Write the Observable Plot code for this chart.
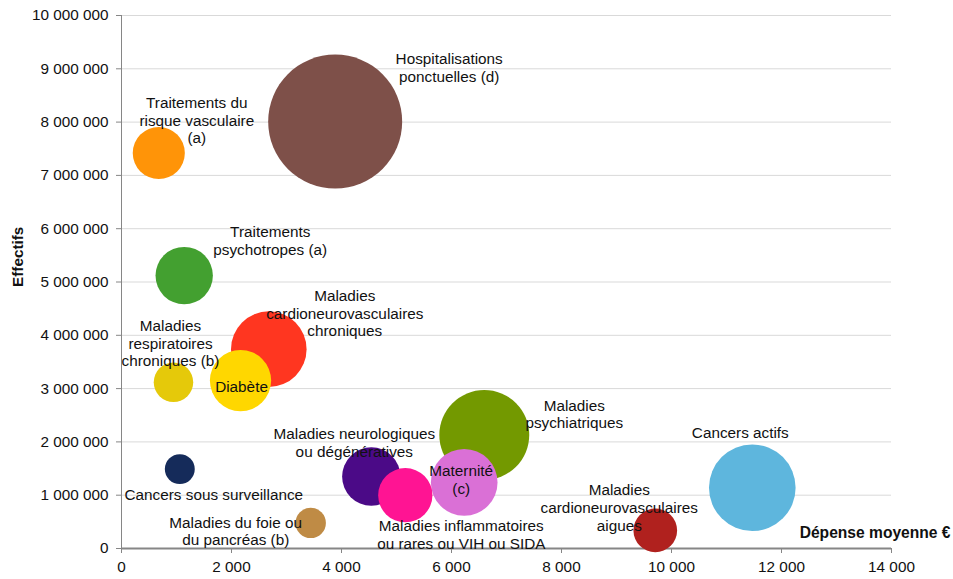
<!DOCTYPE html>
<html><head><meta charset="utf-8">
<script src="https://cdn.jsdelivr.net/npm/d3@7"></script>
<script src="https://cdn.jsdelivr.net/npm/@observablehq/plot@0.6"></script>
<style>body{margin:0;background:#fff} svg{display:block}</style>
</head><body><div id="chart"></div>
<script>
// Catégories (ordre de dessin)
const categories = [
  "Hospitalisations ponctuelles (d)",
  "Traitements du risque vasculaire (a)",
  "Traitements psychotropes (a)",
  "Maladies cardioneurovasculaires chroniques",
  "Maladies respiratoires chroniques (b)",
  "Diabète",
  "Cancers sous surveillance",
  "Maladies du foie ou du pancréas (b)",
  "Maladies neurologiques ou dégénératives",
  "Maladies inflammatoires ou rares ou VIH ou SIDA",
  "Maladies psychiatriques",
  "Maternité (c)",
  "Cancers actifs",
  "Maladies cardioneurovasculaires aigues"
];
const labels = [
  "Hospitalisations\nponctuelles (d)",
  "Traitements du\nrisque vasculaire\n(a)",
  "Traitements\npsychotropes (a)",
  "Maladies\ncardioneurovasculaires\nchroniques",
  "Maladies\nrespiratoires\nchroniques (b)",
  "Diabète",
  "Cancers sous surveillance",
  "Maladies du foie ou\ndu pancréas (b)",
  "Maladies neurologiques\nou dégénératives",
  "Maladies inflammatoires\nou rares ou VIH ou SIDA",
  "Maladies\npsychiatriques",
  "Maternité\n(c)",
  "Cancers actifs",
  "Maladies\ncardioneurovasculaires\naigues"
];
// Dépense moyenne (€)
const depenseMoyenne = [3885, 678, 1140, 2678, 945, 2164, 1060, 3440, 4542, 5160, 6596, 6231, 11469, 9705];
// Effectifs
const effectifs = [8010000, 7420000, 5120000, 3740000, 3120000, 3150000, 1490000, 480000, 1350000, 1000000, 2130000, 1240000, 1140000, 340000];
// Dépense totale (Md€) -> taille des bulles
const depenseTotale = [31.1, 4.7, 5.7, 9.9, 2.7, 6.5, 1.55, 1.6, 5.9, 5.1, 14.0, 7.7, 13.0, 3.3];
// Couleurs
const colors = ["#7E5049", "#FF9408", "#43A030", "#FF3620", "#E5C90A", "#FFD700", "#152B5A", "#BF8B45", "#4B0A87", "#FF1493", "#739900", "#DA70D6", "#5EB6DD", "#B0211E"];
// Décalage des étiquettes (px)
const labelOffsets = [[114,-54],[38,-33],[86,-35],[76,-36],[-3,-39],[1,6],[34,25],[-75,8],[-17,-34],[56,39],[90,-21],[-3,-3],[-12,-55],[-36,-23]];

const xTicks = [0, 2000, 4000, 6000, 8000, 10000, 12000, 14000];
const yTicks = [0, 1e6, 2e6, 3e6, 4e6, 5e6, 6e6, 7e6, 8e6, 9e6, 1e7];

const data = categories.map((c, i) => ({
  cat: c, label: labels[i], x: depenseMoyenne[i], y: effectifs[i],
  total: depenseTotale[i], color: colors[i], off: labelOffsets[i]
}));

const fmt = d => d3.format(",")(d).replace(/,/g, "\u00a0");

const font = "'Liberation Sans', Arial, sans-serif";

const chart = Plot.plot({
  width: 953, height: 579,
  marginLeft: 121, marginRight: 62, marginTop: 15, marginBottom: 31,
  style: {fontFamily: font, fontSize: "15.3px", color: "#111", background: "#fff", overflow: "visible"},
  x: {domain: [0, 14000]},
  y: {domain: [0, 1e7]},
  r: {type: "sqrt", domain: [0, 31.1], range: [0, 67]},
  marks: [
    Plot.gridY(yTicks, {stroke: "#d9d9d9", strokeOpacity: 1}),
    Plot.axisY({ticks: yTicks, tickSize: 5, tickPadding: 8, tickFormat: fmt, label: null, stroke: "#868686", fill: "#111"}),
    Plot.axisX({ticks: xTicks, tickSize: 5, tickPadding: 8, tickFormat: fmt, label: null, stroke: "#868686", fill: "#111"}),
    Plot.ruleX([0], {stroke: "#868686"}),
    Plot.ruleY([0], {stroke: "#868686", strokeWidth: 2}),
    Plot.dot(data, {x: "x", y: "y", r: "total", fill: "color", stroke: "none"}),
    ...data.map(d => Plot.text([d], {
      x: "x", y: "y", text: "label", dx: d.off[0], dy: d.off[1],
      lineHeight: 1.15, fill: "#111", fontSize: 15.3
    })),
    Plot.text(["Dépense moyenne €"], {frameAnchor: "bottom-right", textAnchor: "end", dx: 59, dy: -11, fontWeight: "bold", fontSize: 15.6, fill: "#111"}),
    Plot.text(["Effectifs"], {frameAnchor: "left", rotate: -90, dx: -103, dy: 5, fontWeight: "bold", fontSize: 15.3, fill: "#111"})
  ]
});
document.getElementById("chart").appendChild(chart);
</script>
</body></html>
